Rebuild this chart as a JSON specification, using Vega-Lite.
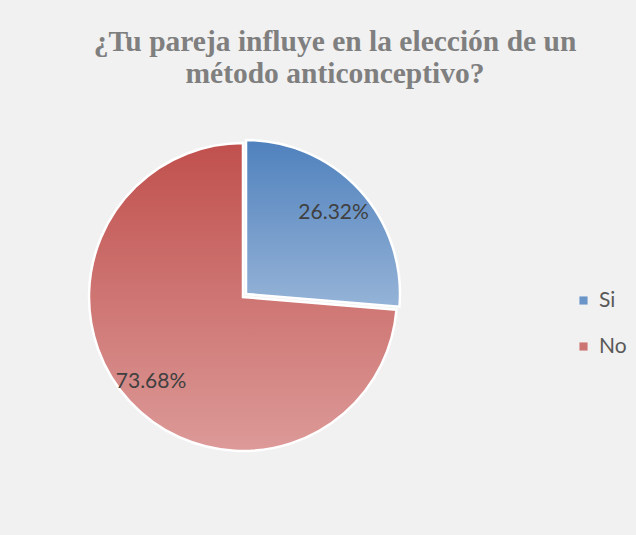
{
  "$schema": "https://vega.github.io/schema/vega-lite/v6.json",
  "width": 310,
  "height": 310,
  "autosize": {"type": "none"},
  "padding": {"left": 88, "top": 142, "right": 238, "bottom": 83},
  "background": "#f1f1f1",
  "config": {"view": {"stroke": null}},
  "title": {
    "text": ["¿Tu pareja influye en la elección de un", "método anticonceptivo?"],
    "font": "Liberation Serif",
    "fontSize": 29.5,
    "fontWeight": "bold",
    "color": "#7f7f7f",
    "anchor": "middle",
    "dx": 92,
    "offset": 46,
    "lineHeight": 32
  },
  "data": {
    "values": [
      {"respuesta": "Si", "porcentaje": 0.2632, "orden": 1},
      {"respuesta": "No", "porcentaje": 0.7368, "orden": 2}
    ]
  },
  "layer": [
    {
      "mark": {"type": "arc", "outerRadius": 154, "stroke": "white", "strokeWidth": 2.5},
      "encoding": {
        "theta": {"field": "porcentaje", "type": "quantitative", "stack": true},
        "order": {"field": "orden", "type": "quantitative"},
        "fill": {
          "condition": {"test": "datum.respuesta == 'Si'", "value": null},
          "value": {"gradient": "linear", "x1": 0, "y1": 0, "x2": 0, "y2": 1, "stops": [{"offset": 0, "color": "#c0504d"}, {"offset": 1, "color": "#dc9a98"}]}
        },
        "strokeOpacity": {"condition": {"test": "datum.respuesta == 'Si'", "value": 0}, "value": 1}
      }
    },
    {
      "mark": {"type": "arc", "outerRadius": 154, "stroke": "white", "strokeWidth": 2.5, "xOffset": 3, "yOffset": -3},
      "encoding": {
        "theta": {"field": "porcentaje", "type": "quantitative", "stack": true},
        "order": {"field": "orden", "type": "quantitative"},
        "fill": {
          "condition": {
            "test": "datum.respuesta == 'Si'",
            "value": {"gradient": "linear", "x1": 0, "y1": 0, "x2": 0, "y2": 1, "stops": [{"offset": 0, "color": "#4f81bd"}, {"offset": 1, "color": "#95b3d7"}]}
          },
          "value": null
        },
        "strokeOpacity": {"condition": {"test": "datum.respuesta == 'Si'", "value": 1}, "value": 0}
      }
    },
    {
      "mark": {"type": "arc", "outerRadius": 0, "strokeWidth": 0},
      "encoding": {
        "theta": {"field": "porcentaje", "type": "quantitative", "stack": true},
        "order": {"field": "orden", "type": "quantitative"},
        "color": {
          "field": "respuesta",
          "type": "nominal",
          "sort": ["Si", "No"],
          "scale": {"domain": ["Si", "No"], "range": ["#6a95c9", "#cd7572"]},
          "legend": {
            "title": null,
            "orient": "none",
            "legendX": 485,
            "legendY": 148,
            "symbolType": "square",
            "symbolSize": 66,
            "symbolStrokeWidth": 0,
            "labelFont": "Lato",
            "labelFontSize": 21,
            "labelColor": "#595959",
            "labelOffset": 5,
            "rowPadding": 24
          }
        }
      }
    },
    {
      "mark": {"type": "text", "radius": 119, "font": "Lato", "fontSize": 21, "color": "#404040", "xOffset": 3, "yOffset": -3},
      "encoding": {
        "theta": {"field": "porcentaje", "type": "quantitative", "stack": true},
        "order": {"field": "orden", "type": "quantitative"},
        "text": {"condition": {"test": "datum.respuesta == 'Si'", "field": "porcentaje", "format": ".2%"}, "value": ""}
      }
    },
    {
      "mark": {"type": "text", "radius": 125, "font": "Lato", "fontSize": 21, "color": "#404040"},
      "encoding": {
        "theta": {"field": "porcentaje", "type": "quantitative", "stack": true},
        "order": {"field": "orden", "type": "quantitative"},
        "text": {"condition": {"test": "datum.respuesta == 'No'", "field": "porcentaje", "format": ".2%"}, "value": ""}
      }
    }
  ]
}
